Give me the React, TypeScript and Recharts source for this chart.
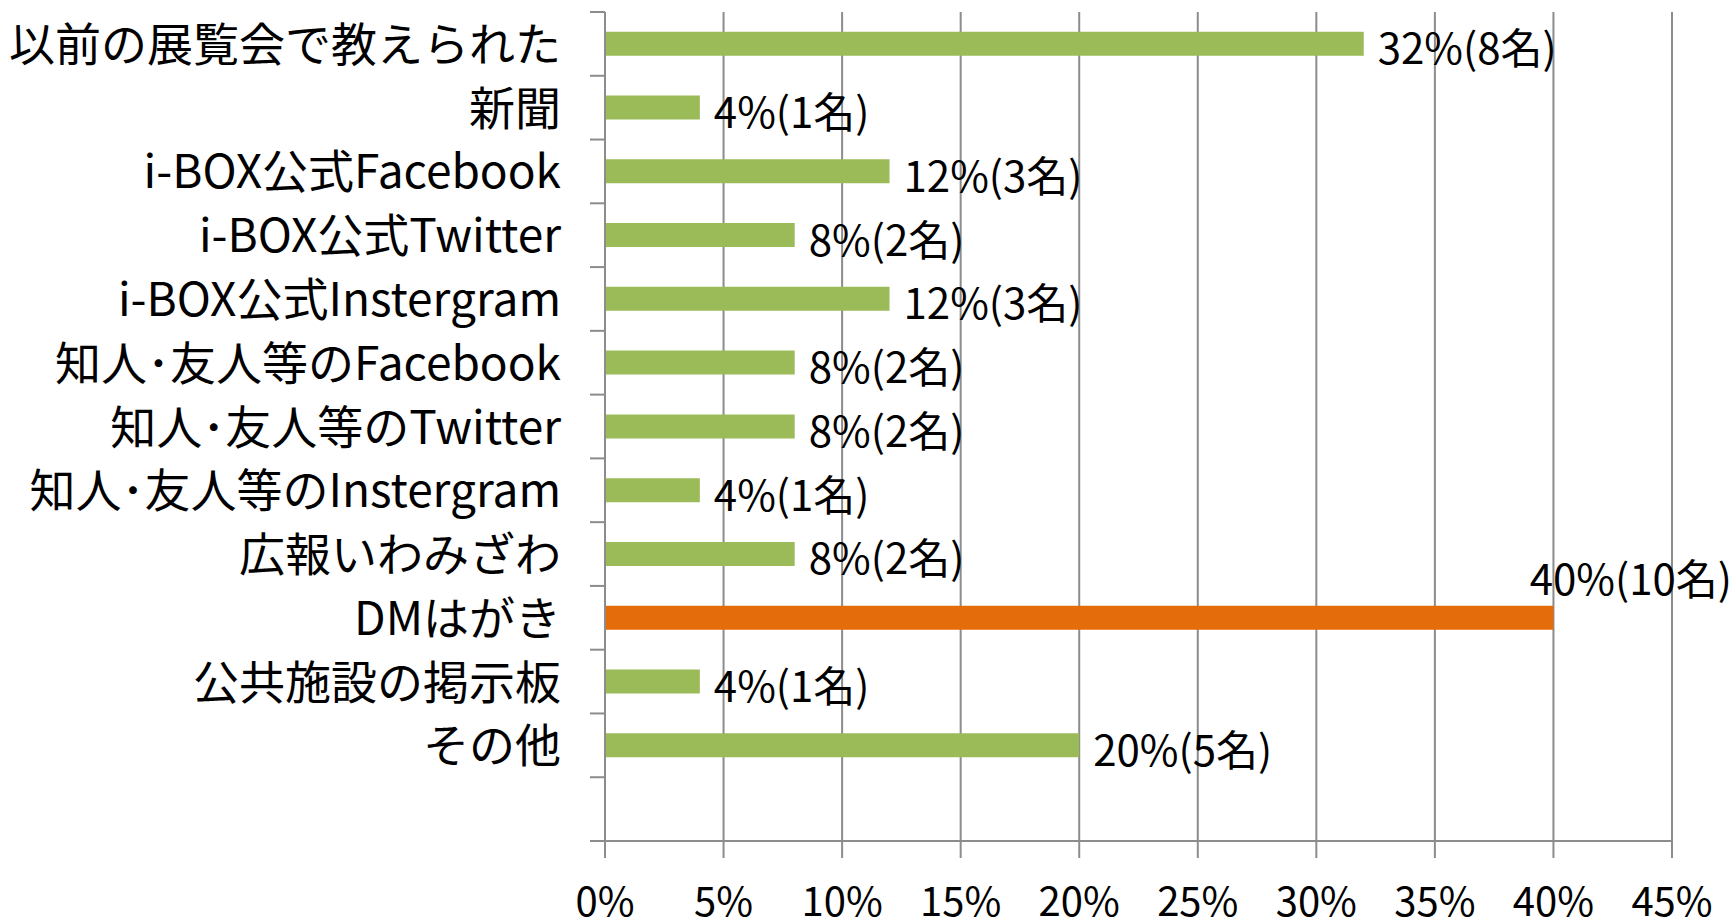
import React from 'react';
import { BarChart, Bar, XAxis, YAxis, CartesianGrid, LabelList, Cell } from 'recharts';

// 回答項目（最後の空欄は Excel の余白カテゴリ）
const categories = [
  '以前の展覧会で教えられた',
  '新聞',
  'i-BOX公式Facebook',
  'i-BOX公式Twitter',
  'i-BOX公式Instergram',
  '知人･友人等のFacebook',
  '知人･友人等のTwitter',
  '知人･友人等のInstergram',
  '広報いわみざわ',
  'DMはがき',
  '公共施設の掲示板',
  'その他',
  '',
];
const percents = [32, 4, 12, 8, 12, 8, 8, 4, 8, 40, 4, 20];
const counts = [8, 1, 3, 2, 3, 2, 2, 1, 2, 10, 1, 5];
const xTicks = [0, 5, 10, 15, 20, 25, 30, 35, 40, 45];
const highlight = 'DMはがき';

const data = categories.map((name, i) => ({
  name,
  value: percents[i],
  count: counts[i],
}));

const W = 1736;
const H = 920;
const FONT = "'Noto Sans CJK JP', 'Noto Sans', sans-serif";
const GRID = '#8c8c8c';
const TICK_SIZE = 15;
const TICK_MARGIN = 29;

const CategoryTick = (props: any) => {
  const { x, y, payload, index } = props;
  const half = payload && payload.offset ? payload.offset : 0;
  const axisX = x + TICK_SIZE + TICK_MARGIN;
  const last = index === categories.length - 1;
  return (
    <g>
      <line x1={axisX - TICK_SIZE} x2={axisX} y1={y - half} y2={y - half} stroke={GRID} strokeWidth={2} />
      {last && <line x1={axisX - TICK_SIZE} x2={axisX} y1={y + half} y2={y + half} stroke={GRID} strokeWidth={2} />}
      <text x={x} y={y - 3} textAnchor="end" dominantBaseline="central" fontSize={46} fill="#000" fontFamily={FONT}>
        {payload.value}
      </text>
    </g>
  );
};

const ValueLabel = (props: any) => {
  const { x, y, width, height, index } = props;
  const d = data[index];
  if (!d || d.value == null) return null;
  const text = `${d.value}%(${d.count}名)`;
  if (d.name === highlight) {
    return (
      <text x={W - 4} y={y - 29} textAnchor="end" dominantBaseline="central" fontSize={42} fill="#000" fontFamily={FONT}>
        {text}
      </text>
    );
  }
  return (
    <text x={x + width + 14} y={y + height / 2 + 2} textAnchor="start" dominantBaseline="central" fontSize={42} fill="#000" fontFamily={FONT}>
      {text}
    </text>
  );
};

export default function App() {
  return (
    <div style={{ position: 'absolute', left: 0, top: 0, width: W, height: H, background: '#fff', fontFamily: FONT }}>
      <BarChart
        width={W}
        height={H}
        data={data}
        layout="vertical"
        margin={{ top: 12, right: 64, bottom: 0, left: 0 }}
        barCategoryGap="31%"
      >
        <CartesianGrid horizontal={false} stroke={GRID} strokeWidth={2} />
        <XAxis
          type="number"
          domain={[0, 45]}
          ticks={xTicks}
          tickFormatter={(v) => `${v}%`}
          height={79}
          tickSize={17}
          tickMargin={30}
          axisLine={{ stroke: GRID, strokeWidth: 2 }}
          tickLine={{ stroke: GRID, strokeWidth: 2 }}
          tick={{ fontSize: 40, fill: '#000', fontFamily: FONT }}
          interval={0}
        />
        <YAxis
          type="category"
          dataKey="name"
          width={605}
          interval={0}
          tickSize={TICK_SIZE}
          tickMargin={TICK_MARGIN}
          tickLine={false}
          axisLine={{ stroke: GRID, strokeWidth: 2 }}
          tick={<CategoryTick />}
        />
        <Bar dataKey="value" isAnimationActive={false}>
          {data.map((d, i) => (
            <Cell key={i} fill={d.name === highlight ? '#e46c0a' : '#9bbb59'} />
          ))}
          <LabelList dataKey="value" content={<ValueLabel />} />
        </Bar>
      </BarChart>
    </div>
  );
}
